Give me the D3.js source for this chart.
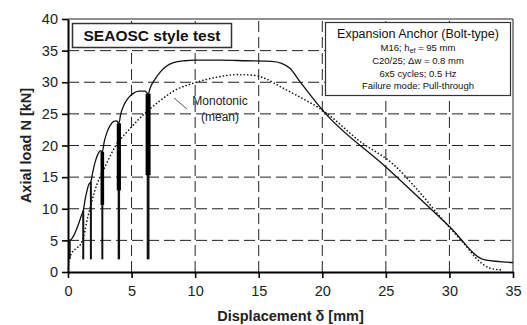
<!DOCTYPE html>
<html>
<head>
<meta charset="utf-8">
<script src="https://cdn.jsdelivr.net/npm/d3@7"></script>
<style>
  html, body { margin: 0; padding: 0; background: #fff; }
  svg { display: block; font-family: "Liberation Sans", Arial, sans-serif; }
</style>
</head>
<body>
<svg id="chart" width="527" height="325"></svg>
<script>
// ---------- DATA ----------
const xTicks = [0, 5, 10, 15, 20, 25, 30, 35];
const yTicks = [0, 5, 10, 15, 20, 25, 30, 35, 40];

// cyclic test, envelope (solid)
const cyclicX = [0.15, 0.35, 0.6, 0.85, 1.05, 1.2,
  1.35, 1.5, 1.65, 1.8,
  1.95, 2.15, 2.35, 2.55, 2.7,
  2.85, 3.05, 3.3, 3.6, 3.85, 4.0,
  4.15, 4.4, 4.7, 5.1, 5.6, 6.05, 6.3,
  6.5, 6.85, 7.25, 7.7, 8.3, 9.2, 10, 12, 14, 16, 16.8, 17.45, 18.24, 20.1, 25, 30, 32.8, 35];
const cyclicY = [5.0, 5.4, 6.4, 7.7, 8.9, 9.7,
  11.5, 12.9, 13.9, 14.3,
  15.8, 17.5, 18.6, 19.2, 19.0,
  20.6, 22.0, 23.1, 23.8, 23.9, 23.5,
  25.0, 26.4, 27.4, 28.2, 28.6, 28.6, 28.2,
  29.3, 30.5, 31.6, 32.5, 33.1, 33.4, 33.5, 33.5, 33.4, 33.3, 33.0, 32.2, 30.1, 25.4, 16.6, 7.2, 1.9, 1.5];

// load cycles: position, peak, end of dense part, lower load
const cycleX = [0.15, 1.2, 1.8, 2.7, 4.0, 6.3];
const cycleTop = [5.0, 9.7, 14.3, 19.0, 23.5, 28.2];
const cycleDenseTo = [5.0, 9.7, 14.3, 10.6, 12.9, 15.3];
const cycleLow = [2.0, 2.0, 2.0, 2.0, 2.0, 2.0];

// monotonic (mean), dotted
const monoX = [0, 0.1, 0.3, 0.7, 1.0, 1.3, 1.5, 1.75, 2.1, 2.5, 2.9, 3.7, 4.8, 6.0, 7.0, 8.3, 10.1,
  11.7, 13.3, 14.6, 15.5, 16.7, 18.2, 20.0, 23.0, 25.6, 27.4, 29.4, 31.1, 32.4, 33.2, 34.2];
const monoY = [0, 2.0, 3.0, 3.8, 4.4, 6.2, 8.2, 10.2, 12.8, 15.0, 16.6, 19.8, 22.5, 25.0, 26.7, 28.6, 30.0,
  30.8, 31.2, 31.1, 30.6, 29.3, 27.7, 25.6, 20.6, 17.0, 13.2, 8.4, 4.6, 1.6, 0.6, 0.3];

const infoLines = ["C20/25; \u0394w = 0.8 mm", "6x5 cycles; 0.5 Hz", "Failure mode: Pull-through"];

// ---------- STYLE ----------
const CYCLE_THICK = [1.6, 2, 2, 3.6, 4.2, 5];
const CYCLE_THIN = [1.6, 2, 2, 2, 2.4, 2.8];

const svg = d3.select("#chart");
const margin = { top: 19, right: 14, bottom: 53, left: 68 };
const W = 527, H = 325;

const x = d3.scaleLinear().domain([0, 35]).range([margin.left, W - margin.right]);
const y = d3.scaleLinear().domain([0, 40]).range([H - margin.bottom, margin.top]);

/* ---------- GRID ---------- */
const grid = svg.append("g");
grid.selectAll(".hg")
  .data(yTicks.filter(d => d > 0 && d < 40))
  .join("line")
  .attr("x1", x(0)).attr("x2", x(35))
  .attr("y1", d => y(d)).attr("y2", d => y(d))
  .attr("stroke", "#222").attr("stroke-width", 1)
  .attr("stroke-dasharray", "11,5");
grid.selectAll(".vg")
  .data(xTicks.filter(d => d > 0 && d < 35))
  .join("line")
  .attr("x1", d => x(d)).attr("x2", d => x(d))
  .attr("y1", y(0)).attr("y2", y(40))
  .attr("stroke", "#222").attr("stroke-width", 1)
  .attr("stroke-dasharray", "11,5");

// frame top / right
svg.append("path")
  .attr("d", `M${x(0)},${y(40)}H${x(35)}V${y(0)}`)
  .attr("fill", "none").attr("stroke", "#222").attr("stroke-width", 1);

/* ---------- ANNOTATION BOXES ---------- */
svg.append("rect")
  .attr("x", 72.5).attr("y", 23.5).attr("width", 159).attr("height", 24)
  .attr("fill", "#fff").attr("stroke", "#333").attr("stroke-width", 1.5);
svg.append("text")
  .attr("x", 152).attr("y", 41)
  .attr("text-anchor", "middle")
  .attr("font-weight", "bold").attr("font-size", 15.5)
  .attr("fill", "#111")
  .text("SEAOSC style test");

svg.append("rect")
  .attr("x", 325.5).attr("y", 22.5).attr("width", 185).attr("height", 73)
  .attr("fill", "#fff").attr("stroke", "#333").attr("stroke-width", 1.2);
const cx = 418;
svg.append("text")
  .attr("x", cx).attr("y", 38)
  .attr("text-anchor", "middle").attr("font-size", 12.5).attr("fill", "#111")
  .text("Expansion Anchor (Bolt-type)");
const l2 = svg.append("text")
  .attr("x", cx).attr("y", 50.5)
  .attr("text-anchor", "middle").attr("font-size", 9.5).attr("fill", "#111");
l2.append("tspan").text("M16; h");
l2.append("tspan").attr("font-size", 7).attr("dy", 2.5).text("ef");
l2.append("tspan").attr("dy", -2.5).text(" = 95 mm");
svg.selectAll(".info")
  .data(infoLines)
  .join("text")
  .attr("x", cx).attr("y", (d, i) => 64 + i * 12.5)
  .attr("text-anchor", "middle").attr("font-size", 9.5).attr("fill", "#111")
  .text(d => d);

/* ---------- CURVES ---------- */
const line = d3.line()
  .x(d => x(d[0]))
  .y(d => y(d[1]))
  .curve(d3.curveMonotoneX);

svg.append("path")
  .datum(monoX.map((v, i) => [v, monoY[i]]))
  .attr("d", line)
  .attr("fill", "none").attr("stroke", "#111")
  .attr("stroke-width", 1.6)
  .attr("stroke-linecap", "round")
  .attr("stroke-dasharray", "0.1,3.4");

svg.append("path")
  .datum(cyclicX.map((v, i) => [v, cyclicY[i]]))
  .attr("d", line)
  .attr("fill", "none").attr("stroke", "#111")
  .attr("stroke-width", 1.3);

const cyc = svg.append("g");
cyc.selectAll(".thin")
  .data(cycleX)
  .join("line")
  .attr("x1", d => x(d)).attr("x2", d => x(d))
  .attr("y1", (d, i) => y(cycleTop[i])).attr("y2", (d, i) => y(cycleLow[i]))
  .attr("stroke", "#111").attr("stroke-width", (d, i) => CYCLE_THIN[i]);
cyc.selectAll(".thick")
  .data(cycleX)
  .join("line")
  .attr("x1", d => x(d)).attr("x2", d => x(d))
  .attr("y1", (d, i) => y(cycleTop[i])).attr("y2", (d, i) => y(cycleDenseTo[i]))
  .attr("stroke", "#000").attr("stroke-width", (d, i) => CYCLE_THICK[i]);

// label for the monotonic curve
svg.append("line")
  .attr("x1", 174).attr("y1", 98).attr("x2", 187).attr("y2", 109)
  .attr("stroke", "#444").attr("stroke-width", 0.9);
svg.append("text")
  .attr("x", 220).attr("y", 105)
  .attr("text-anchor", "middle").attr("font-size", 12).attr("fill", "#222")
  .text("Monotonic");
svg.append("text")
  .attr("x", 220).attr("y", 121)
  .attr("text-anchor", "middle").attr("font-size", 12).attr("fill", "#222")
  .text("(mean)");

/* ---------- AXES ---------- */
const xAxis = svg.append("g")
  .attr("transform", `translate(0,${y(0)})`)
  .call(d3.axisBottom(x).tickValues(xTicks).tickSize(6).tickSizeOuter(0).tickPadding(8));
const yAxis = svg.append("g")
  .attr("transform", `translate(${x(0)},0)`)
  .call(d3.axisLeft(y).tickValues(yTicks).tickSize(6).tickSizeOuter(0).tickPadding(4));

[xAxis, yAxis].forEach(a => {
  a.select(".domain").attr("stroke", "#000").attr("stroke-width", 2);
  a.selectAll(".tick line").attr("stroke", "#000").attr("stroke-width", 1.6);
  a.selectAll(".tick text")
    .attr("font-family", "'Liberation Sans', Arial, sans-serif")
    .attr("font-size", 14.5).attr("fill", "#222");
});

svg.append("text")
  .attr("x", (x(0) + x(35)) / 2).attr("y", 321)
  .attr("text-anchor", "middle")
  .attr("font-weight", "bold").attr("font-size", 14.5).attr("fill", "#222")
  .text("Displacement \u03b4 [mm]");
svg.append("text")
  .attr("transform", `translate(31,${(y(0) + y(40)) / 2}) rotate(-90)`)
  .attr("text-anchor", "middle")
  .attr("font-weight", "bold").attr("font-size", 14.5).attr("fill", "#222")
  .text("Axial load N [kN]");
</script>
</body>
</html>
